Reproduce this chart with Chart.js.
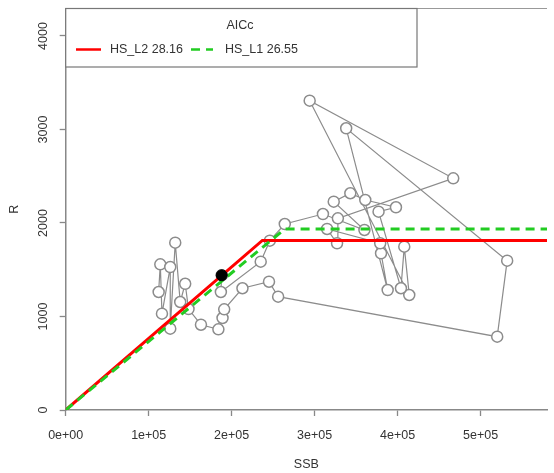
<!DOCTYPE html>
<html><head><meta charset="utf-8">
<script src="https://cdn.jsdelivr.net/npm/chart.js@4"></script>
<style>html,body{margin:0;padding:0;background:#fff;}canvas{display:block;}</style>
</head><body>
<canvas id="c" width="554" height="473"></canvas>
<script>
// Observed stock-recruitment pairs, in time order (last = highlighted year)
const ssb = [112000,114000,116000,126000,126000,132000,138000,144000,148000,163000,184000,189000,191000,
  213000,245000,256000,520000,532000,338000,388000,380000,379000,315000,327000,328000,467000,294000,
  414000,408000,404000,377000,398000,361000,343000,323000,360000,310000,264000,246000,235000,187000,188000];
const rec = [1262,1558,1030,1529,870,1790,1155,1350,1080,912,863,984,1077,
  1302,1372,1212,784,1597,3013,1283,1676,1783,1936,1783,2050,2478,3308,
  1230,1747,1302,2121,2168,2246,2318,2228,1925,2096,1989,1811,1586,1262,1441];

// Fitted hockey-stick models
const fitNames = ["HS_L2", "HS_L1"];
const fitAICc = ["28.16", "26.55"];
const hsL2X = [0, 237000, 580000];
const hsL2Y = [0, 1813, 1813];
const hsL1X = [0, 264000, 580000];
const hsL1Y = [0, 1936, 1936];

const xTicks = [0, 100000, 200000, 300000, 400000, 500000];
const yTicks = [0, 1000, 2000, 3000, 4000];
const legendTitle = "AICc";

const FONT = "'Liberation Sans', Arial, sans-serif";
Chart.defaults.font.family = FONT;
Chart.defaults.font.size = 12.5;
Chart.defaults.color = '#333';

function sci(v){
  return v.toExponential(0).replace(/e([+-])(\d)$/, 'e$10$2');
}
const pts = (xs, ys) => xs.map((x, i) => ({x: x, y: ys[i]}));
const n = ssb.length;

const extras = {
  id: 'extras',
  afterDraw(chart) {
    const ctx = chart.ctx, a = chart.chartArea, ys = chart.scales.y;
    ctx.save();
    // top frame line
    ctx.strokeStyle = '#999'; ctx.lineWidth = 1;
    ctx.beginPath(); ctx.moveTo(a.left, a.top); ctx.lineTo(a.right, a.top); ctx.stroke();
    // rotated y tick labels
    ctx.fillStyle = '#333'; ctx.font = "12.5px " + FONT;
    ctx.textAlign = 'center'; ctx.textBaseline = 'middle';
    yTicks.forEach(v => {
      const py = ys.getPixelForValue(v);
      ctx.save(); ctx.translate(44, py); ctx.rotate(-Math.PI/2);
      ctx.fillText(String(v), 0, 0); ctx.restore();
    });
    // legend box
    const bx = a.left, by = a.top, bw = 417 - a.left, bh = 67 - a.top;
    ctx.fillStyle = '#fff'; ctx.fillRect(bx, by, bw, bh);
    ctx.strokeStyle = '#777'; ctx.lineWidth = 1.2;
    ctx.strokeRect(bx, by, bw, bh);
    ctx.fillStyle = '#333';
    ctx.textAlign = 'center';
    ctx.fillText(legendTitle, 240, 25.5);
    ctx.textAlign = 'left';
    const ds = chart.data.datasets;
    const items = [{d: ds[2], x0: 76, x1: 101, tx: 110}, {d: ds[3], x0: 191, x1: 213, tx: 225}];
    items.forEach(it => {
      ctx.save();
      ctx.strokeStyle = it.d.borderColor; ctx.lineWidth = 2.5;
      ctx.setLineDash(it.d.borderDash || []);
      ctx.beginPath(); ctx.moveTo(it.x0, 49.5); ctx.lineTo(it.x1, 49.5); ctx.stroke();
      ctx.restore();
      ctx.fillText(it.d.label, it.tx, 50);
    });
    ctx.restore();
  }
};

new Chart(document.getElementById('c'), {
  type: 'scatter',
  data: { datasets: [
    { label: 'obs', type: 'line', data: pts(ssb, rec), showLine: true, fill: false, tension: 0,
      borderColor: '#8c8c8c', borderWidth: 1.2, pointRadius: 5.5, pointBorderColor: '#8c8c8c',
      pointBackgroundColor: '#fff', pointBorderWidth: 1.5, order: 3 },
    { label: 'last', data: [{x: ssb[n-1], y: rec[n-1]}], pointRadius: 5.5,
      pointBackgroundColor: '#000', pointBorderColor: '#000', order: 0 },
    { label: fitNames[0] + ' ' + fitAICc[0], type: 'line', data: pts(hsL2X, hsL2Y), showLine: true,
      borderColor: '#ff0000', borderWidth: 3, pointRadius: 0, tension: 0, fill: false, order: 2 },
    { label: fitNames[1] + ' ' + fitAICc[1], type: 'line', data: pts(hsL1X, hsL1Y), showLine: true,
      borderColor: '#22cc22', borderWidth: 3, borderDash: [9, 6], pointRadius: 0, tension: 0, fill: false, order: 1 }
  ]},
  options: {
    responsive: false, animation: false, devicePixelRatio: 1,
    layout: { padding: { top: 8.5, right: 0, left: 0, bottom: 0 } },
    plugins: { legend: { display: false }, tooltip: { enabled: false } },
    scales: {
      x: { type: 'linear', min: 0, max: 580000,
        afterBuildTicks: s => { s.ticks = xTicks.map(v => ({value: v})); },
        afterFit: s => { s.height = 63; },
        grid: { drawOnChartArea: false, drawTicks: true, tickLength: 6, color: '#888', tickWidth: 1.3 },
        border: { display: true, color: '#888', width: 1.5 },
        ticks: { padding: 12, maxRotation: 0, autoSkip: false, color: '#333', callback: v => sci(v) },
        title: { display: true, text: 'SSB', color: '#333', padding: { top: 0, bottom: 0.5 } } },
      y: { type: 'linear', min: 0, max: 4294,
        afterBuildTicks: s => { s.ticks = yTicks.map(v => ({value: v})); },
        afterFit: s => { s.width = 65.7; },
        grid: { drawOnChartArea: false, drawTicks: true, tickLength: 6, color: '#888', tickWidth: 1.3 },
        border: { display: true, color: '#888', width: 1.5 },
        ticks: { display: false },
        title: { display: true, text: 'R', color: '#333', padding: { top: 7.5, bottom: 0 } } }
    }
  },
  plugins: [extras]
});
</script>
</body></html>
